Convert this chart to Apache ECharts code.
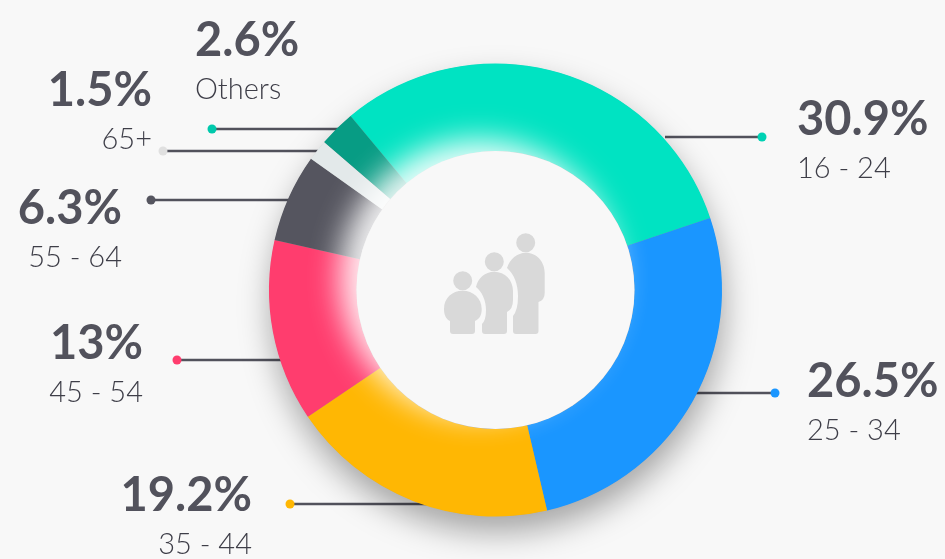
<!DOCTYPE html>
<html>
<head>
<meta charset="utf-8">
<style>html,body{margin:0;padding:0;background:#f8f8f8}#c{width:945px;height:559px}</style>
<script src="https://cdn.jsdelivr.net/npm/echarts@6/dist/echarts.min.js"></script>
</head>
<body>
<div id="c"></div>
<script>
const categories = ['16 - 24','25 - 34','35 - 44','45 - 54','55 - 64','65+','Others'];
const shares = [30.9,26.5,19.2,13,6.3,1.5,2.6];
const sliceColors = ['#00E3C2','#1A96FF','#FFB703','#FF3D6E','#55555F','#E3E9EA','#079C84'];
const dotColors = ['#00D2B4','#1A96FF','#FFB703','#FF3D6E','#55555F','#E0E0E0','#00C9AC'];
// label anchors: x, y (top), align
const labelAnchors = [[797,95,'left'],[807,357,'left'],[252,471,'right'],[143,319,'right'],[122,184,'right'],[152,66,'right'],[195,16,'left']];
// leader lines: dot x, y, ring-side x
const leaders = [[762,137,665],[775,393,695],[290,504,430],[177,360,290],[151,200,292],[163,151,322],[212,129,345]];

const center = [495.5,290];
const ink = '#52525C';
const font = 'Lato';
const iconPath = [
 'M516.2 242.7a9.5 9.5 0 1 0 19 0a9.5 9.5 0 1 0 -19 0Z',
 'M484.8 261.7a9.5 9.5 0 1 0 19 0a9.5 9.5 0 1 0 -19 0Z',
 'M453.2 280.7a9.5 9.5 0 1 0 19 0a9.5 9.5 0 1 0 -19 0Z',
 'M526 252.7C537 252.7 544.7 262 544.7 273L544.7 293Q544.7 300 538.5 302L538.5 331Q538.5 334 535.5 334L516 334Q513 334 513 331L513 316Q518 310 518 296C518 284 514 274 507 268C510 259 517 252.7 526 252.7Z',
 'M494.3 271.7C505 271.7 513 280 513 291L513 300Q513 309 507 312L507 331Q507 334 504 334L485 334Q482 334 482 331L482 324Q486 320 486 310C486 300 482 292 476 287C478 278 485 271.7 494.3 271.7Z',
 'M462.7 290.7C473 290.7 481.7 298 481.7 309C481.7 316 479 319 475 321L475 331Q475 334 472 334L453 334Q450 334 450 331L450 321C446 319 444 315 444 309C444 298 452 290.7 462.7 290.7Z'
].join('');
echarts.graphic.registerShape('peopleIcon', echarts.graphic.extendPath(iconPath, {}));

const graphics = [];
leaders.forEach((l,i)=>{
  graphics.push({type:'line',z:1,silent:true,shape:{x1:l[0],y1:l[1],x2:l[2],y2:l[1]},style:{stroke:ink,lineWidth:2.5}});
  graphics.push({type:'circle',z:1,silent:true,shape:{cx:l[0],cy:l[1],r:4.5},style:{fill:dotColors[i]}});
});
graphics.push({type:'peopleIcon',z:20,silent:true,style:{fill:'#D9D9D9'}});

const chart = echarts.init(document.getElementById('c'),null,{renderer:'canvas'});
chart.setOption({
  animation:false,
  backgroundColor:'#f8f8f8',
  graphic:graphics,
  series:[
    {type:'pie',z:2,silent:true,center,radius:[0,226],label:{show:false},labelLine:{show:false},
     data:[{value:1,itemStyle:{color:'#999',shadowColor:'rgba(0,0,0,0.34)',shadowBlur:32,shadowOffsetX:2,shadowOffsetY:16}}]},
    {type:'pie',z:3,silent:true,center,radius:[139,226.5],startAngle:129.8,clockwise:true,
     avoidLabelOverlap:false,labelLine:{show:false},
     data:categories.map((n,i)=>({name:n,value:shares[i],itemStyle:{color:sliceColors[i]}})),
     label:{show:true,formatter:p=>'{b|'+p.value+'%}\n{s|'+p.name+'}',
       rich:{b:{fontFamily:font,fontWeight:700,fontSize:47,lineHeight:50,color:ink},
             s:{fontFamily:font,fontWeight:300,fontSize:29,lineHeight:48,color:'#3E3E48'}}},
     labelLayout:p=>{const a=labelAnchors[p.dataIndex];return {x:a[0],y:a[1],align:a[2],verticalAlign:'top',hideOverlap:false};}
    },
    {type:'pie',z:4,silent:true,center:[center[0],center[1]],radius:[0,139],label:{show:false},labelLine:{show:false},
     data:[{value:1,itemStyle:{color:'#f8f8f8',shadowColor:'rgba(255,255,255,0.9)',shadowBlur:30,shadowOffsetX:-17,shadowOffsetY:-12}}]}
  ]
});
</script>
</body>
</html>
